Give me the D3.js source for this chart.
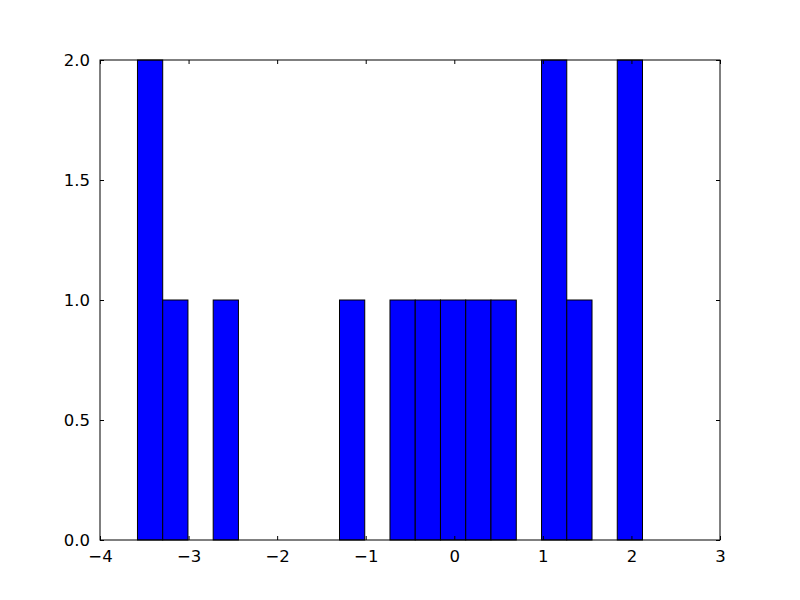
<!DOCTYPE html>
<html><head><meta charset="utf-8">
<script src="https://cdn.jsdelivr.net/npm/d3@7"></script>
<style>body{margin:0;background:#fff}svg{display:block}text{font-family:"DejaVu Sans",sans-serif;font-size:16.5px;fill:#000}</style>
</head><body><svg id="c" width="800" height="600"></svg>
<script>
const binEdges = [-3.577,-3.292,-3.007,-2.722,-2.437,-2.152,-1.866,-1.581,-1.296,-1.011,-0.726,-0.441,-0.156,0.129,0.414,0.700,0.985,1.270,1.555,1.840,2.125];
const counts = [2,1,0,1,0,0,0,0,1,0,1,1,1,1,1,0,2,1,0,2];
const xTicks = [-4,-3,-2,-1,0,1,2,3];
const yTicks = [0,0.5,1,1.5,2];

const svg = d3.select("#c");
const L=100,R=720,T=60,B=540;
const x = d3.scaleLinear().domain([-4,3]).range([L,R]);
const y = d3.scaleLinear().domain([0,2]).range([B,T]);
const fmtX = d => String(d).replace("-","\u2212");
const fmtY = d => d3.format(".1f")(d);

const bins = counts.map((c,i)=>({x0:binEdges[i],x1:binEdges[i+1],c}));
svg.append("g").selectAll("rect").data(bins.filter(b=>b.c>0)).join("rect")
  .attr("x",d=>x(d.x0)).attr("width",d=>x(d.x1)-x(d.x0))
  .attr("y",d=>y(d.c)).attr("height",d=>y(0)-y(d.c))
  .attr("fill","#0000ff").attr("stroke","#000").attr("stroke-width",1);

function styleAxis(g){ g.select(".domain").remove(); g.selectAll("line").attr("stroke","#000"); g.selectAll("text").style("font-family","DejaVu Sans").style("font-size","16.5px"); }

svg.append("g").attr("transform",`translate(0,${B})`)
  .call(d3.axisBottom(x).tickValues(xTicks).tickFormat(fmtX).tickSizeInner(-4).tickSizeOuter(0).tickPadding(10))
  .call(styleAxis);
svg.append("g").attr("transform",`translate(0,${T})`)
  .call(d3.axisTop(x).tickValues(xTicks).tickFormat("").tickSizeInner(-4).tickSizeOuter(0))
  .call(styleAxis);
svg.append("g").attr("transform",`translate(${L},0)`)
  .call(d3.axisLeft(y).tickValues(yTicks).tickFormat(fmtY).tickSizeInner(-4).tickSizeOuter(0).tickPadding(10))
  .call(styleAxis);
svg.append("g").attr("transform",`translate(${R},0)`)
  .call(d3.axisRight(y).tickValues(yTicks).tickFormat("").tickSizeInner(-4).tickSizeOuter(0))
  .call(styleAxis);

svg.append("rect").attr("x",L).attr("y",T).attr("width",R-L).attr("height",B-T)
  .attr("fill","none").attr("stroke","#000").attr("stroke-width",1);
</script></body></html>
